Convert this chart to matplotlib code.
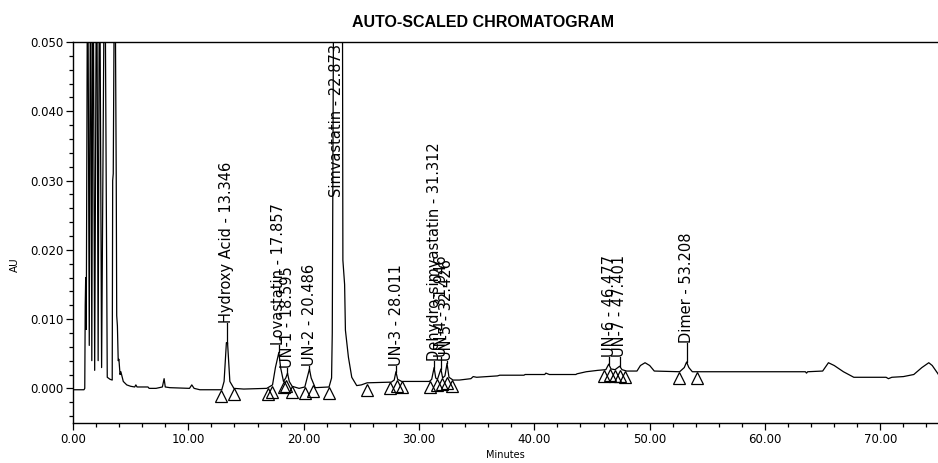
import matplotlib
matplotlib.use("Agg")
import matplotlib.pyplot as plt
import matplotlib.transforms as mtransforms
from matplotlib.ticker import MultipleLocator, FormatStrFormatter

# detector trace (minutes, AU)
time_min = [0.00, 0.95, 1.02, 1.06, 1.10, 1.15, 1.27, 1.41, 1.53, 1.63, 1.74, 1.88, 2.05, 2.18,
            2.30, 2.48, 2.75, 2.97,
            3.22, 3.40, 3.44, 3.49, 3.62, 3.75, 3.79, 3.85, 3.92, 3.98, 4.08, 4.15, 4.36, 4.66,
            5.00, 5.35, 5.45, 5.55, 6.50, 6.60, 7.20, 7.75, 7.90, 8.00, 8.40, 10.10, 10.30, 10.50,
            11.00, 12.90, 13.10, 13.30, 13.40, 13.60, 13.95, 14.80, 16.80, 17.30, 17.55, 17.85,
            18.00, 18.25, 18.45, 18.60, 18.75, 19.00, 19.60, 20.10, 20.35, 20.50, 20.65, 21.00,
            22.20, 22.42, 22.48, 22.60, 22.87, 23.36, 23.40, 23.55, 23.62, 23.88, 24.17, 24.60,
            25.00, 25.50, 27.60, 27.85, 28.00, 28.15, 28.50, 30.90, 31.10, 31.31, 31.45, 31.60,
            31.90, 32.05, 32.25, 32.43, 32.60, 32.95, 33.50, 34.50, 34.70, 35.00, 36.80, 37.00,
            39.10, 39.20, 40.90, 41.00, 41.30, 43.60, 43.70, 44.50, 45.50, 46.20, 46.45, 46.65,
            47.00, 47.40, 47.60, 48.00, 48.90, 49.20, 49.60, 50.00, 50.40, 52.60, 53.00, 53.20,
            53.40, 53.70, 63.50, 63.60, 63.70, 65.00, 65.50, 66.00, 66.80, 67.70, 70.50, 70.70,
            71.00, 72.00, 72.90, 73.60, 74.20, 74.50, 75.00, 75.10]
au = [-0.0002, -0.0002, 0.0000, 0.0120, 0.0160, 0.0085, 0.0700, 0.0062, 0.0700, 0.0040, 0.0700,
      0.0026, 0.0700, 0.0040, 0.0700, 0.0030, 0.0700, 0.0016,
      0.0013, 0.0012, 0.0300, 0.0310, 0.0700, 0.0300, 0.0105, 0.0090,
      0.0040, 0.0042, 0.0020, 0.0024, 0.0010, 0.0005, 0.0003, 0.0002, 0.0005, 0.0002, 0.0002,
      0.0000, 0.0000, 0.0002, 0.0014, 0.0002, 0.0001, 0.0000, 0.0005, 0.0000, -0.0002, -0.0002,
      0.0010, 0.0066, 0.0066, 0.0010, 0.0000, -0.0001, 0.0000, 0.0005, 0.0030, 0.0052, 0.0030,
      0.0010, 0.0015, 0.0022, 0.0010, 0.0003, 0.0000, 0.0002, 0.0018, 0.0028, 0.0015, 0.0001,
      0.0002, 0.0015, 0.0080, 0.0600, 0.1000, 0.0600, 0.0185, 0.0150, 0.0084, 0.0045, 0.0016,
      0.0004, 0.0005, 0.0008, 0.0009, 0.0012, 0.0024, 0.0013, 0.0010, 0.0010, 0.0013, 0.0030,
      0.0015, 0.0013, 0.0028, 0.0015, 0.0018, 0.0036, 0.0016, 0.0012, 0.0012, 0.0014, 0.0017,
      0.0016, 0.0018, 0.0019, 0.0019, 0.0020, 0.0020, 0.0022, 0.0020, 0.0020, 0.0021, 0.0024,
      0.0026, 0.0027, 0.0035, 0.0028, 0.0027, 0.0032, 0.0027, 0.0025, 0.0025, 0.0033, 0.0037,
      0.0033, 0.0025, 0.0024, 0.0030, 0.0038, 0.0030, 0.0024, 0.0024, 0.0022, 0.0024, 0.0025,
      0.0037, 0.0033, 0.0024, 0.0016, 0.0016, 0.0014, 0.0016, 0.0017, 0.0020, 0.0030, 0.0037,
      0.0033, 0.0021, 0.0018]

# integration start/end markers (minutes, baseline AU)
tri_t = [12.82, 13.95, 16.90, 17.24, 18.30, 18.45, 18.98, 20.11, 20.80, 22.16, 25.47,
         27.50, 28.07, 28.50, 30.96, 31.56, 31.99, 32.43, 32.86,
         46.00, 46.60, 47.00, 47.45, 47.90, 52.58, 54.10]
tri_au = [-0.0002, 0.0000, 0.0000, 0.0003, 0.0010, 0.0012, 0.0003, 0.0002, 0.0005, 0.0002, 0.0007,
          0.0009, 0.0012, 0.0010, 0.0010, 0.0013, 0.0015, 0.0016, 0.0012,
          0.0026, 0.0028, 0.0027, 0.0027, 0.0025, 0.0024, 0.0024]

# peak labels: name, retention time, apex AU, label start AU
pk_names = ["Hydroxy Acid", "Lovastatin", "UN-1", "UN-2", "Simvastatin", "UN-3",
            "Dehydro-simvastatin", "UN-4", "UN-5", "UN-6", "UN-7", "Dimer"]
pk_rt = [13.346, 17.857, 18.595, 20.486, 22.873, 28.011, 31.312, 31.946, 32.426,
         46.477, 47.401, 53.208]
pk_apex = [0.0066, 0.0052, 0.0022, 0.0028, 0.0276, 0.0024, 0.0030, 0.0028, 0.0036,
           0.0035, 0.0032, 0.0038]
pk_lab = [0.0095, 0.0063, 0.0030, 0.0032, 0.0276, 0.0033, 0.0040, 0.0045, 0.0040,
          0.0045, 0.0045, 0.0065]

fig = plt.figure(figsize=(9.38, 4.63), dpi=100)
ax = fig.add_axes([73/938, 40/463, 865/938, 381/463])

ax.plot(time_min, au, color='black', lw=0.9)

tri_tr = mtransforms.offset_copy(ax.transData, fig=fig, x=0, y=-6, units='dots')
ax.plot(tri_t, tri_au, ls='none', marker='^', ms=9, mfc='none', mec='black', mew=0.9,
        transform=tri_tr)

for name, rt, ap, lb in zip(pk_names, pk_rt, pk_apex, pk_lab):
    ax.plot([rt, rt], [ap, lb], color='black', lw=0.9)
    ax.text(rt, lb, '%s - %.3f' % (name, rt), rotation=90, ha='center', va='bottom',
            fontsize=10.5, family='DejaVu Sans', clip_on=True)

ax.set_xlim(0, 75)
ax.set_ylim(-0.005, 0.050)
ax.xaxis.set_major_locator(MultipleLocator(10))
ax.xaxis.set_minor_locator(MultipleLocator(2))
ax.yaxis.set_major_locator(MultipleLocator(0.01))
ax.yaxis.set_minor_locator(MultipleLocator(0.002))
ax.xaxis.set_major_formatter(FormatStrFormatter('%.2f'))
ax.yaxis.set_major_formatter(FormatStrFormatter('%.3f'))
ax.tick_params(which='major', direction='out', length=5, width=0.9, labelsize=8.5, pad=2)
ax.tick_params(which='minor', direction='out', length=3, width=0.9)
ax.spines['right'].set_visible(False)
for s in ['left', 'bottom', 'top']:
    ax.spines[s].set_linewidth(1.0)

fig.text(0.515, 0.952, 'AUTO-SCALED CHROMATOGRAM', ha='center', va='center',
         fontsize=11.5, fontweight='bold', family='Liberation Sans')
fig.text(505/938, 8/463, 'Minutes', ha='center', va='center', fontsize=7)
fig.text(15/938, 1 - 265/463, 'AU', ha='center', va='center', rotation=90, fontsize=7.5)

plt.savefig('out.png', dpi=100)
